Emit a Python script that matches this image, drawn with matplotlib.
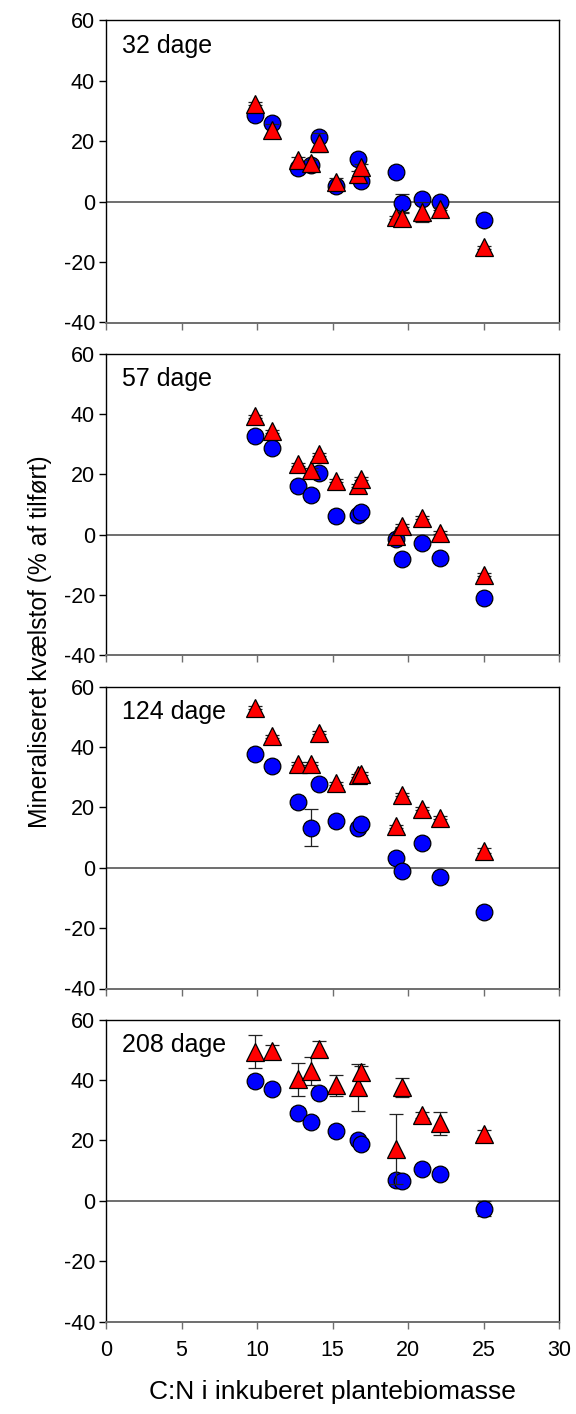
#!/usr/bin/env python3
# -*- coding: utf-8 -*-
"""Mineraliseret kvælstof vs. C:N for fire inkubationstider."""

import matplotlib

matplotlib.use("Agg")
import matplotlib.pyplot as plt

plt.rcParams["font.family"] = ["Liberation Sans", "DejaVu Sans"]
plt.rcParams["axes.unicode_minus"] = False

# C:N i inkuberet plantebiomasse
cn_ratio = [9.9, 11.0, 12.7, 13.6, 14.1, 15.2, 16.7, 16.9, 19.2, 19.6, 20.9, 22.1, 25.0]

day_labels = ["32 dage", "57 dage", "124 dage", "208 dage"]

# blå cirkler
circle_32 = [28.8, 26.2, 11.1, 12.2, 21.4, 5.1, 14.1, 6.9, 9.7, -0.4, 0.9, 0.0, -6.0]
circle_57 = [32.7, 28.8, 16.0, 13.1, 20.4, 6.3, 6.4, 7.5, -1.3, -8.1, -2.9, -7.7, -21.1]
circle_124 = [37.5, 33.6, 21.8, 13.3, 27.8, 15.4, 13.0, 14.6, 3.2, -1.2, 8.2, -3.2, -14.8]
circle_208 = [39.7, 37.1, 29.2, 26.1, 35.6, 23.1, 20.2, 18.7, 6.8, 6.4, 10.5, 9.0, -2.6]

circle_err_32 = [0.8, 0.8, 1.0, 1.0, 1.0, 1.0, 0.5, 0.5, 0.5, 3.0, 0.5, 0.5, 0.5]
circle_err_57 = [0.5, 0.5, 0.5, 0.5, 0.5, 0.5, 0.5, 0.5, 0.5, 0.5, 0.5, 0.5, 0.5]
circle_err_124 = [0.5, 0.5, 0.5, 6.0, 0.5, 0.5, 0.5, 0.5, 0.5, 0.5, 0.5, 0.5, 0.5]
circle_err_208 = [0.8, 0.5, 1.5, 0.5, 0.5, 0.5, 0.5, 0.5, 0.5, 0.5, 0.5, 0.5, 2.6]

# røde trekanter
triangle_32 = [32.4, 23.6, 13.9, 12.8, 19.6, 6.4, 9.1, 11.5, -5.2, -5.4, -3.4, -2.4, -15.1]
triangle_57 = [39.2, 34.3, 23.3, 21.5, 26.6, 17.8, 16.3, 18.6, -0.5, 2.9, 5.6, 0.6, -13.2]
triangle_124 = [53.0, 43.5, 34.4, 34.4, 44.7, 28.0, 30.6, 31.1, 13.8, 24.2, 19.6, 16.5, 5.6]
triangle_208 = [49.3, 49.7, 40.2, 43.0, 50.3, 38.2, 37.5, 42.7, 17.1, 37.5, 28.4, 25.6, 22.2]

triangle_err_32 = [0.5, 2.2, 1.0, 1.0, 3.0, 1.5, 1.0, 1.0, 0.5, 1.7, 3.3, 0.5, 0.5]
triangle_err_57 = [0.5, 0.5, 0.5, 0.5, 0.5, 0.5, 0.5, 0.5, 0.5, 0.5, 0.5, 0.5, 0.5]
triangle_err_124 = [0.5, 0.5, 0.5, 0.5, 0.5, 0.5, 0.5, 0.5, 0.5, 0.5, 0.5, 0.5, 0.8]
triangle_err_208 = [5.5, 1.9, 5.5, 4.7, 2.5, 3.5, 7.8, 2.0, 11.6, 3.2, 1.0, 3.8, 1.3]

circles = [circle_32, circle_57, circle_124, circle_208]
circle_errs = [circle_err_32, circle_err_57, circle_err_124, circle_err_208]
triangles = [triangle_32, triangle_57, triangle_124, triangle_208]
triangle_errs = [triangle_err_32, triangle_err_57, triangle_err_124, triangle_err_208]


def main():
    fig_w, fig_h = 576, 1414
    fig = plt.figure(figsize=(fig_w / 100, fig_h / 100), dpi=100)

    left = 106 / fig_w
    width = (559 - 106) / fig_w
    height = 302 / fig_h
    panel_tops = [20.5, 353.5, 686.5, 1019.5]

    for i, top in enumerate(panel_tops):
        bottom = 1 - (top + 302) / fig_h
        ax = fig.add_axes([left, bottom, width, height])

        ax.axhline(0, color="#6e6e6e", lw=1.4, zorder=1)

        ax.errorbar(
            cn_ratio, circles[i], yerr=circle_errs[i], fmt="o", ms=12,
            mfc="#0000ff", mec="black", mew=0.9, ecolor="#222222",
            elinewidth=0.9, capsize=5, capthick=0.9, zorder=3,
        )
        ax.errorbar(
            cn_ratio, triangles[i], yerr=triangle_errs[i], fmt="^", ms=12.5,
            mfc="#ff0000", mec="black", mew=0.9, ecolor="#222222",
            elinewidth=0.9, capsize=5, capthick=0.9, zorder=4,
        )

        ax.set_xlim(0, 30)
        ax.set_ylim(-40, 60)
        ax.set_xticks(range(0, 31, 5))
        ax.set_yticks(range(-40, 61, 20))
        ax.tick_params(direction="out", length=5, width=1, labelsize=15.5,
                       top=False, right=False, pad=3)
        ax.tick_params(axis="x", color="#6e6e6e")
        if i < 3:
            ax.tick_params(axis="x", labelbottom=False)
        else:
            ax.tick_params(axis="x", pad=8)

        ax.spines["bottom"].set_color("#6e6e6e")
        ax.spines["bottom"].set_linewidth(1.4)
        for side in ("left", "top", "right"):
            ax.spines[side].set_linewidth(1.0)

        ax.text(0.035, 0.955, day_labels[i], transform=ax.transAxes,
                ha="left", va="top", fontsize=18)

    fig.text(40 / fig_w, 1 - 642 / fig_h, "Mineraliseret kvælstof (% af tilført)",
             rotation=90, ha="center", va="center", fontsize=17.7)
    fig.text((106 + 559) / 2 / fig_w, 1 - 1392 / fig_h,
             "C:N i inkuberet plantebiomasse", ha="center", va="center",
             fontsize=19)

    fig.savefig("out.png", dpi=100)
    plt.close(fig)


if __name__ == "__main__":
    main()
